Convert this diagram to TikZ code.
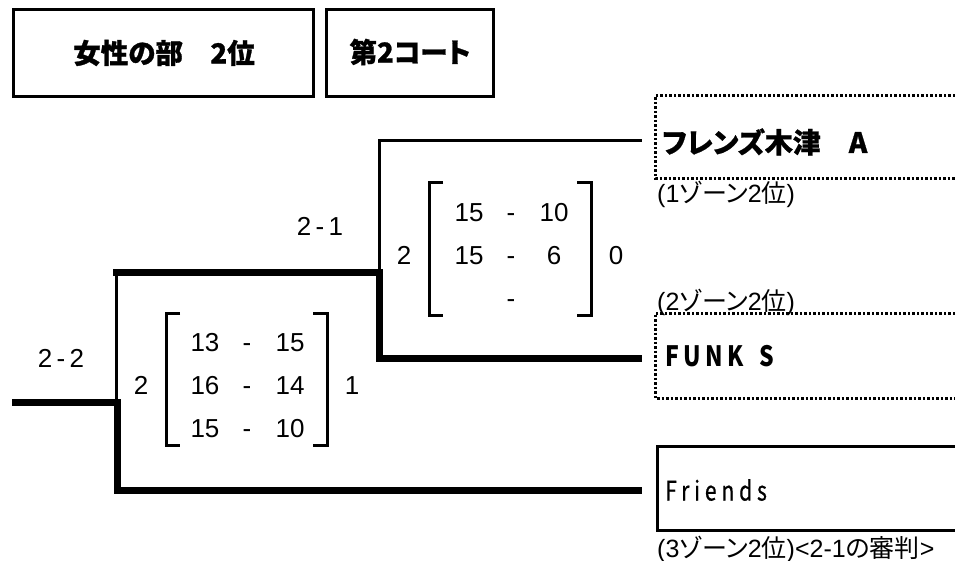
\documentclass[tikz,border=0pt]{standalone}
\usepackage{fontspec}
\setmainfont{Liberation Sans}
\newfontfamily\jp{Noto Sans CJK JP}[RawFeature=+palt]
\newcommand\jtxt[1]{{\jp\fontsize{25}{25}\selectfont #1}}
\begin{document}
\begin{tikzpicture}[x=1pt,y=-1pt,
  wire/.style={line width=3pt},
  heavywire/.style={line width=7pt,line join=miter},
  titlebox/.style={draw,line width=3pt,inner sep=0pt},
  dotbox/.style={line width=3pt,dash pattern=on 2.5pt off 2pt},
  solidbox/.style={line width=3pt},
  titletext/.style={font=\jp\bfseries\fontsize{27.5}{30}\selectfont\addfontfeatures{FakeBold=1},inner sep=0pt},
  score/.style={font=\fontsize{26}{28}\selectfont,inner sep=0pt,text height=18.6pt,text depth=0pt},
  note/.style={font=\fontsize{25}{27}\selectfont,inner sep=0pt,anchor=base west},
  bracketline/.style={line width=3pt}]
\useasboundingbox (0,0) rectangle (955,561);

% title boxes
\draw[titlebox] (13.5,10) rectangle (313.5,96.5);
\node[titletext] (t1) at (164,53) {女性の部　2位};
\draw[titlebox] (326.5,10) rectangle (493.5,96.5);
\node[titletext] (t2) at (410,52) {第2コート};

% team boxes (open to the right)
\coordinate (Atl) at (655,96);
\coordinate (Abl) at (655,178.5);
\draw[dotbox] (955,96) -- (Atl) -- (Abl) -- (955,178.5);
\node[inner sep=0pt,anchor=west,font=\jp\bfseries\fontsize{28}{30}\selectfont\addfontfeatures{FakeBold=0.8}] (A) at (662,142) {フレンズ木津　A};
\node[note] (Anote) at (657,203) {(1\jtxt{ゾーン}2\jtxt{位})};

\coordinate (Btl) at (655,313);
\coordinate (Bbl) at (655,398);
\draw[dotbox] (955,313) -- (Btl) -- (Bbl) -- (955,398);
\node[inner sep=0pt,anchor=west,font=\jp\bfseries\fontsize{28}{30}\selectfont\addfontfeatures{FakeStretch=0.82,LetterSpace=16}] (B) at (665,356) {FUNK\hspace{16pt}S};
\node[note] (Bnote) at (657,310) {(2\jtxt{ゾーン}2\jtxt{位})};

\coordinate (Ctl) at (657,446);
\coordinate (Cbl) at (657,530);
\draw[solidbox] (955,446) -- (Ctl) -- (Cbl) -- (955,530);
\node[inner sep=0pt,anchor=west,font=\jp\fontsize{27}{29}\selectfont\addfontfeatures{FakeStretch=0.78,FakeBold=0.6,LetterSpace=18}] (C) at (665,490) {Friends};
\node[note] (Cnote) at (657,557) {(3\jtxt{ゾーン}2\jtxt{位})<2-1\jtxt{の審判}>};

% connectors
\coordinate (Ain) at (642,141);
\coordinate (Bin) at (642,358);
\coordinate (Cin) at (642,490);
\coordinate (j1) at (379,272);
\coordinate (j1top) at (379,141);
\coordinate (j2) at (116,272);
\coordinate (j2bot) at (116,402);
\coordinate (root) at (12,402);

\draw[wire] (j1) -- (j1top) -- (Ain);
\draw[heavywire] (113,272) -- (j1) -- (379,358) -- (Bin);
\draw[wire] (j2) -- (j2bot);
\draw[heavywire] (root) -- (117,402) -- (117,490) -- (Cin);

% match labels
\node[score] (m21) at (320,226) {2\,-\,1};
\node[score] (m22) at (61,358) {2\,-\,2};

% upper score block
\draw[bracketline] (443,183) -- (429,183) -- (429,315) -- (443,315);
\draw[bracketline] (577,183) -- (591,183) -- (591,315) -- (577,315);
\node[score] (u2) at (404,255) {2};
\node[score] (u0) at (616,255) {0};
\node[score] (ua1) at (469,212) {15};
\node[score] (ud1) at (511,212) {-};
\node[score] (ub1) at (554,212) {10};
\node[score] (ua2) at (469,255) {15};
\node[score] (ud2) at (511,255) {-};
\node[score] (ub2) at (554,255) {6};
\node[score] (ud3) at (511,298) {-};

% lower score block
\draw[bracketline] (180,313) -- (166,313) -- (166,445) -- (180,445);
\draw[bracketline] (313,313) -- (327,313) -- (327,445) -- (313,445);
\node[score] (l2) at (141,385) {2};
\node[score] (l1) at (352,385) {1};
\node[score] (la1) at (205,342) {13};
\node[score] (ld1) at (247,342) {-};
\node[score] (lb1) at (290,342) {15};
\node[score] (la2) at (205,385) {16};
\node[score] (ld2) at (247,385) {-};
\node[score] (lb2) at (290,385) {14};
\node[score] (la3) at (205,428) {15};
\node[score] (ld3) at (247,428) {-};
\node[score] (lb3) at (290,428) {10};
\end{tikzpicture}
\end{document}
